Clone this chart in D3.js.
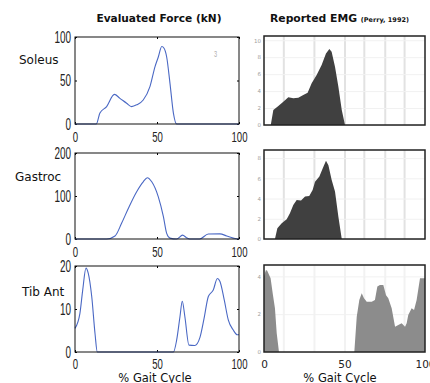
<!DOCTYPE html>
<html><head><meta charset="utf-8">
<script src="https://cdn.jsdelivr.net/npm/d3@7"></script>
<style>
html,body{margin:0;padding:0;background:#fff;}
svg{display:block;}
</style></head>
<body>
<svg id="c" width="430" height="383"></svg>
<script>
// ---------- data ----------
const gaitTicks = [0, 50, 100];
const muscles = ["Soleus", "Gastroc", "Tib Ant"];
const forceTicks = [[0, 50, 100], [0, 100, 200], [0, 10, 20]];
const forceMax = [100, 200, 20];
const emgTicks = [[0, 2, 4, 6, 8, 10], [0, 2, 4, 6, 8], [0, 2, 4]];
const emgMax = [10.5, 8.8, 4.6];
const phaseLines = [12, 31, 50, 62, 75, 87];

const soleusForce = [[0,0],[13,0],[15.2,12.6],[19.3,20],[24,34],[27.4,29.5],[31.5,23.8],[34.5,20],[37.6,22],[41.6,27.6],[45.7,43],[48.8,66],[50.8,77],[52.9,89],[54.3,87],[55.9,77],[57.9,47],[60,12.6],[62,0],[100,0]];
const gastrocForce = [[0,0],[19.3,0],[24.4,7],[28.4,36.5],[32.5,71],[37.6,110],[41.6,133],[44.1,142.6],[46.8,133],[50.8,98],[53.9,52],[55.9,13],[57.9,2],[62,0],[65.6,9],[68,3],[70,0],[76,0],[81.3,11.6],[88.4,12],[92.5,7],[96.5,2],[99.5,0],[100,0]];
const tibAntForce = [[0,5.5],[3,9],[4.7,14.4],[6.7,19.5],[8.1,18.3],[10.2,12.9],[12.2,4.3],[13.6,0],[60,0],[62,2.8],[64,8.2],[65.4,11.8],[67,8.2],[69.5,1.6],[73,1.5],[76.2,3.4],[78.7,7.8],[81.3,12.9],[84.3,14.4],[86.8,17.1],[88.4,16.4],[91,12.1],[93.5,7.4],[96.5,5.1],[99,4],[100,4]];

const soleusEMG = [[4.2,0],[5.8,1.77],[8.9,2.24],[12,2.75],[15.1,3.27],[18.2,3.15],[21.3,3.22],[24.4,3.54],[27.1,3.81],[29.6,4.92],[32.7,5.9],[35.8,7.08],[38.5,8.45],[40.6,8.96],[42,8.64],[44.1,6.87],[46.2,4.52],[48.3,1.77],[50.3,0]];
const gastrocEMG = [[6.8,0],[8.3,1.06],[11,1.55],[14.1,1.95],[16.1,2.54],[18.2,3.37],[20.3,3.86],[23,3.8],[25.5,4.19],[28.1,4.26],[30.2,4.85],[31.7,5.67],[34.4,6.17],[36.5,7],[38.5,7.74],[40,7.3],[42,5.86],[44.1,4.7],[46.2,2.2],[48.3,0]];
const tibAntEMG = [[0,4.0],[1.2,4.34],[2,4.3],[4.1,3.9],[5.4,3.1],[6.8,2.31],[7.9,0.99],[9.3,0],[56.1,0],[57.6,1.87],[59.2,2.75],[60.7,3.1],[62.1,2.84],[63.8,2.66],[66.9,2.66],[68.9,2.75],[70.4,3.46],[72,3.54],[74.1,3.54],[75.8,3.0],[77.2,2.84],[79.3,2.31],[81.4,1.34],[83.4,1.43],[85.5,1.52],[87.6,1.34],[88.6,1.52],[89.6,1.96],[91.7,2.31],[93.2,2.22],[94.8,2.75],[96.9,3.9],[98.9,3.9],[100,3.9]];

const forceData = [soleusForce, gastrocForce, tibAntForce];
const emgData = [soleusEMG, gastrocEMG, tibAntEMG];

// ---------- layout ----------
const leftX = [75, 239], rightX = [264, 425];
const leftRows = [[37, 124], [153, 239], [266, 352]];
const rightRows = [[36, 125], [150, 239], [265, 352]];
const labelPos = [[19, 64], [15, 181], [22, 296]];
const xPad = [7, 7, 6];
const emgFill = ["#404040", "#404040", "#8c8c8c"];
const NARROW = 0.62;

const svg = d3.select("#c");
const font = "'DejaVu Sans', Verdana, sans-serif";
const thin = "'Liberation Sans', Arial, sans-serif";

function narrow(g) {
  g.selectAll(".tick text").each(function () {
    const t = d3.select(this);
    const x = +t.attr("x") || 0;
    t.attr("x", x / NARROW).attr("transform", `scale(${NARROW},1)`);
  });
}

// titles
svg.append("text").attr("x", 159).attr("y", 22).attr("text-anchor", "middle")
  .attr("font-family", font).attr("font-weight", "bold").attr("font-size", 10.6).attr("fill", "#111")
  .text("Evaluated Force (kN)");
const t2 = svg.append("text").attr("x", 270).attr("y", 22)
  .attr("font-family", font).attr("font-weight", "bold").attr("font-size", 10.8).attr("fill", "#111");
t2.append("tspan").text("Reported EMG ");
t2.append("tspan").attr("font-size", 6.5).text("(Perry, 1992)");

const x = d3.scaleLinear().domain([0, 100]).range(leftX);
const xr = d3.scaleLinear().domain([0, 100]).range(rightX);

for (let i = 0; i < 3; i++) {
  const [top, bot] = leftRows[i];
  const y = d3.scaleLinear().domain([0, forceMax[i]]).range([bot, top]);
  const g = svg.append("g");

  // inward small ticks
  g.append("g").attr("transform", `translate(${leftX[0]},0)`)
    .call(d3.axisRight(y).tickValues(forceTicks[i]).tickSize(2).tickFormat(""))
    .call(a => a.select(".domain").remove());
  g.append("g").attr("transform", `translate(${leftX[1]},0)`)
    .call(d3.axisLeft(y).tickValues(forceTicks[i]).tickSize(2).tickFormat(""))
    .call(a => a.select(".domain").remove());
  g.append("g").attr("transform", `translate(0,${top})`)
    .call(d3.axisBottom(x).tickValues(gaitTicks).tickSize(2).tickFormat(""))
    .call(a => a.select(".domain").remove());

  // labels
  g.append("g").attr("transform", `translate(${leftX[0]},0)`)
    .call(d3.axisLeft(y).tickValues(forceTicks[i]).tickSize(0).tickPadding(4))
    .call(a => a.select(".domain").remove())
    .call(a => a.selectAll("text").attr("font-family", thin).attr("font-size", 16).attr("fill", "#222"))
    .call(narrow);
  g.append("g").attr("transform", `translate(0,${bot})`)
    .call(d3.axisBottom(x).tickValues(gaitTicks).tickSizeInner(-2).tickSizeOuter(0).tickPadding(xPad[i]))
    .call(a => a.select(".domain").remove())
    .call(a => a.selectAll("text").attr("font-family", thin).attr("font-size", 15.5).attr("fill", "#222"))
    .call(narrow);

  // line
  const line = d3.line().x(d => x(d[0])).y(d => y(d[1])).curve(d3.curveMonotoneX);
  g.append("path").datum(forceData[i]).attr("d", line)
    .attr("fill", "none").attr("stroke", "#4a68c4").attr("stroke-width", 1.1);

  // box
  g.append("rect").attr("x", leftX[0]).attr("y", top)
    .attr("width", leftX[1] - leftX[0]).attr("height", bot - top)
    .attr("fill", "none").attr("stroke", "#111").attr("stroke-width", 1);

  // muscle label
  svg.append("text").attr("x", labelPos[i][0]).attr("y", labelPos[i][1])
    .attr("font-family", font).attr("font-size", 12).attr("fill", "#111").text(muscles[i]);

  // ---- EMG panel ----
  const [rt, rb] = rightRows[i];
  const yr = d3.scaleLinear().domain([0, emgMax[i]]).range([rb, rt]);
  const gr = svg.append("g");
  const gridOp = i === 2 ? 0.45 : 1;
  gr.append("g").attr("transform", `translate(0,${rb})`)
    .call(d3.axisTop(xr).tickValues(phaseLines).tickSize(rb - rt).tickFormat(""))
    .call(a => a.select(".domain").remove())
    .call(a => a.selectAll("line").attr("stroke", "#e2e2e2").attr("stroke-width", 2).attr("opacity", gridOp));
  gr.append("g").attr("transform", `translate(${rightX[0]},0)`)
    .call(d3.axisRight(yr).tickValues(emgTicks[i]).tickSize(rightX[1] - rightX[0]).tickFormat(""))
    .call(a => a.select(".domain").remove())
    .call(a => a.selectAll("line").attr("stroke", "#f1f1f1").attr("stroke-width", 1));
  gr.append("g").attr("transform", `translate(${rightX[0]},0)`)
    .call(d3.axisLeft(yr).tickValues(emgTicks[i]).tickSize(0).tickPadding(3).tickFormat(d3.format("d")))
    .call(a => a.select(".domain").remove())
    .call(a => a.selectAll("text").attr("font-family", font).attr("font-size", 5.5).attr("fill", "#a0a0a0"));

  const area = d3.area().x(d => xr(d[0])).y0(yr(0)).y1(d => yr(d[1]));
  gr.append("path").datum(emgData[i]).attr("d", area).attr("fill", emgFill[i]);

  gr.append("rect").attr("x", rightX[0]).attr("y", rt)
    .attr("width", rightX[1] - rightX[0]).attr("height", rb - rt)
    .attr("fill", "none").attr("stroke", "#222").attr("stroke-width", 1.5);

  if (i === 2) {
    gr.append("g").attr("transform", `translate(0,${rb})`)
      .call(d3.axisBottom(xr).tickValues(gaitTicks).tickSize(0).tickPadding(9))
      .call(a => a.select(".domain").remove())
      .call(a => a.selectAll("text").attr("font-family", font).attr("font-size", 10.5).attr("fill", "#222"));
  }
}

// faint stray mark in first panel
svg.append("text").attr("x", 214 / NARROW).attr("y", 57).attr("transform", `scale(${NARROW},1)`)
  .attr("font-family", thin).attr("font-size", 9).attr("fill", "#b0b0b0").text("3");

// x-axis titles
svg.append("text").attr("x", 155).attr("y", 382).attr("text-anchor", "middle")
  .attr("font-family", font).attr("font-size", 11.5).attr("fill", "#111").text("% Gait Cycle");
svg.append("text").attr("x", 340).attr("y", 382).attr("text-anchor", "middle")
  .attr("font-family", font).attr("font-size", 11.5).attr("fill", "#111").text("% Gait Cycle");
</script>
</body></html>
